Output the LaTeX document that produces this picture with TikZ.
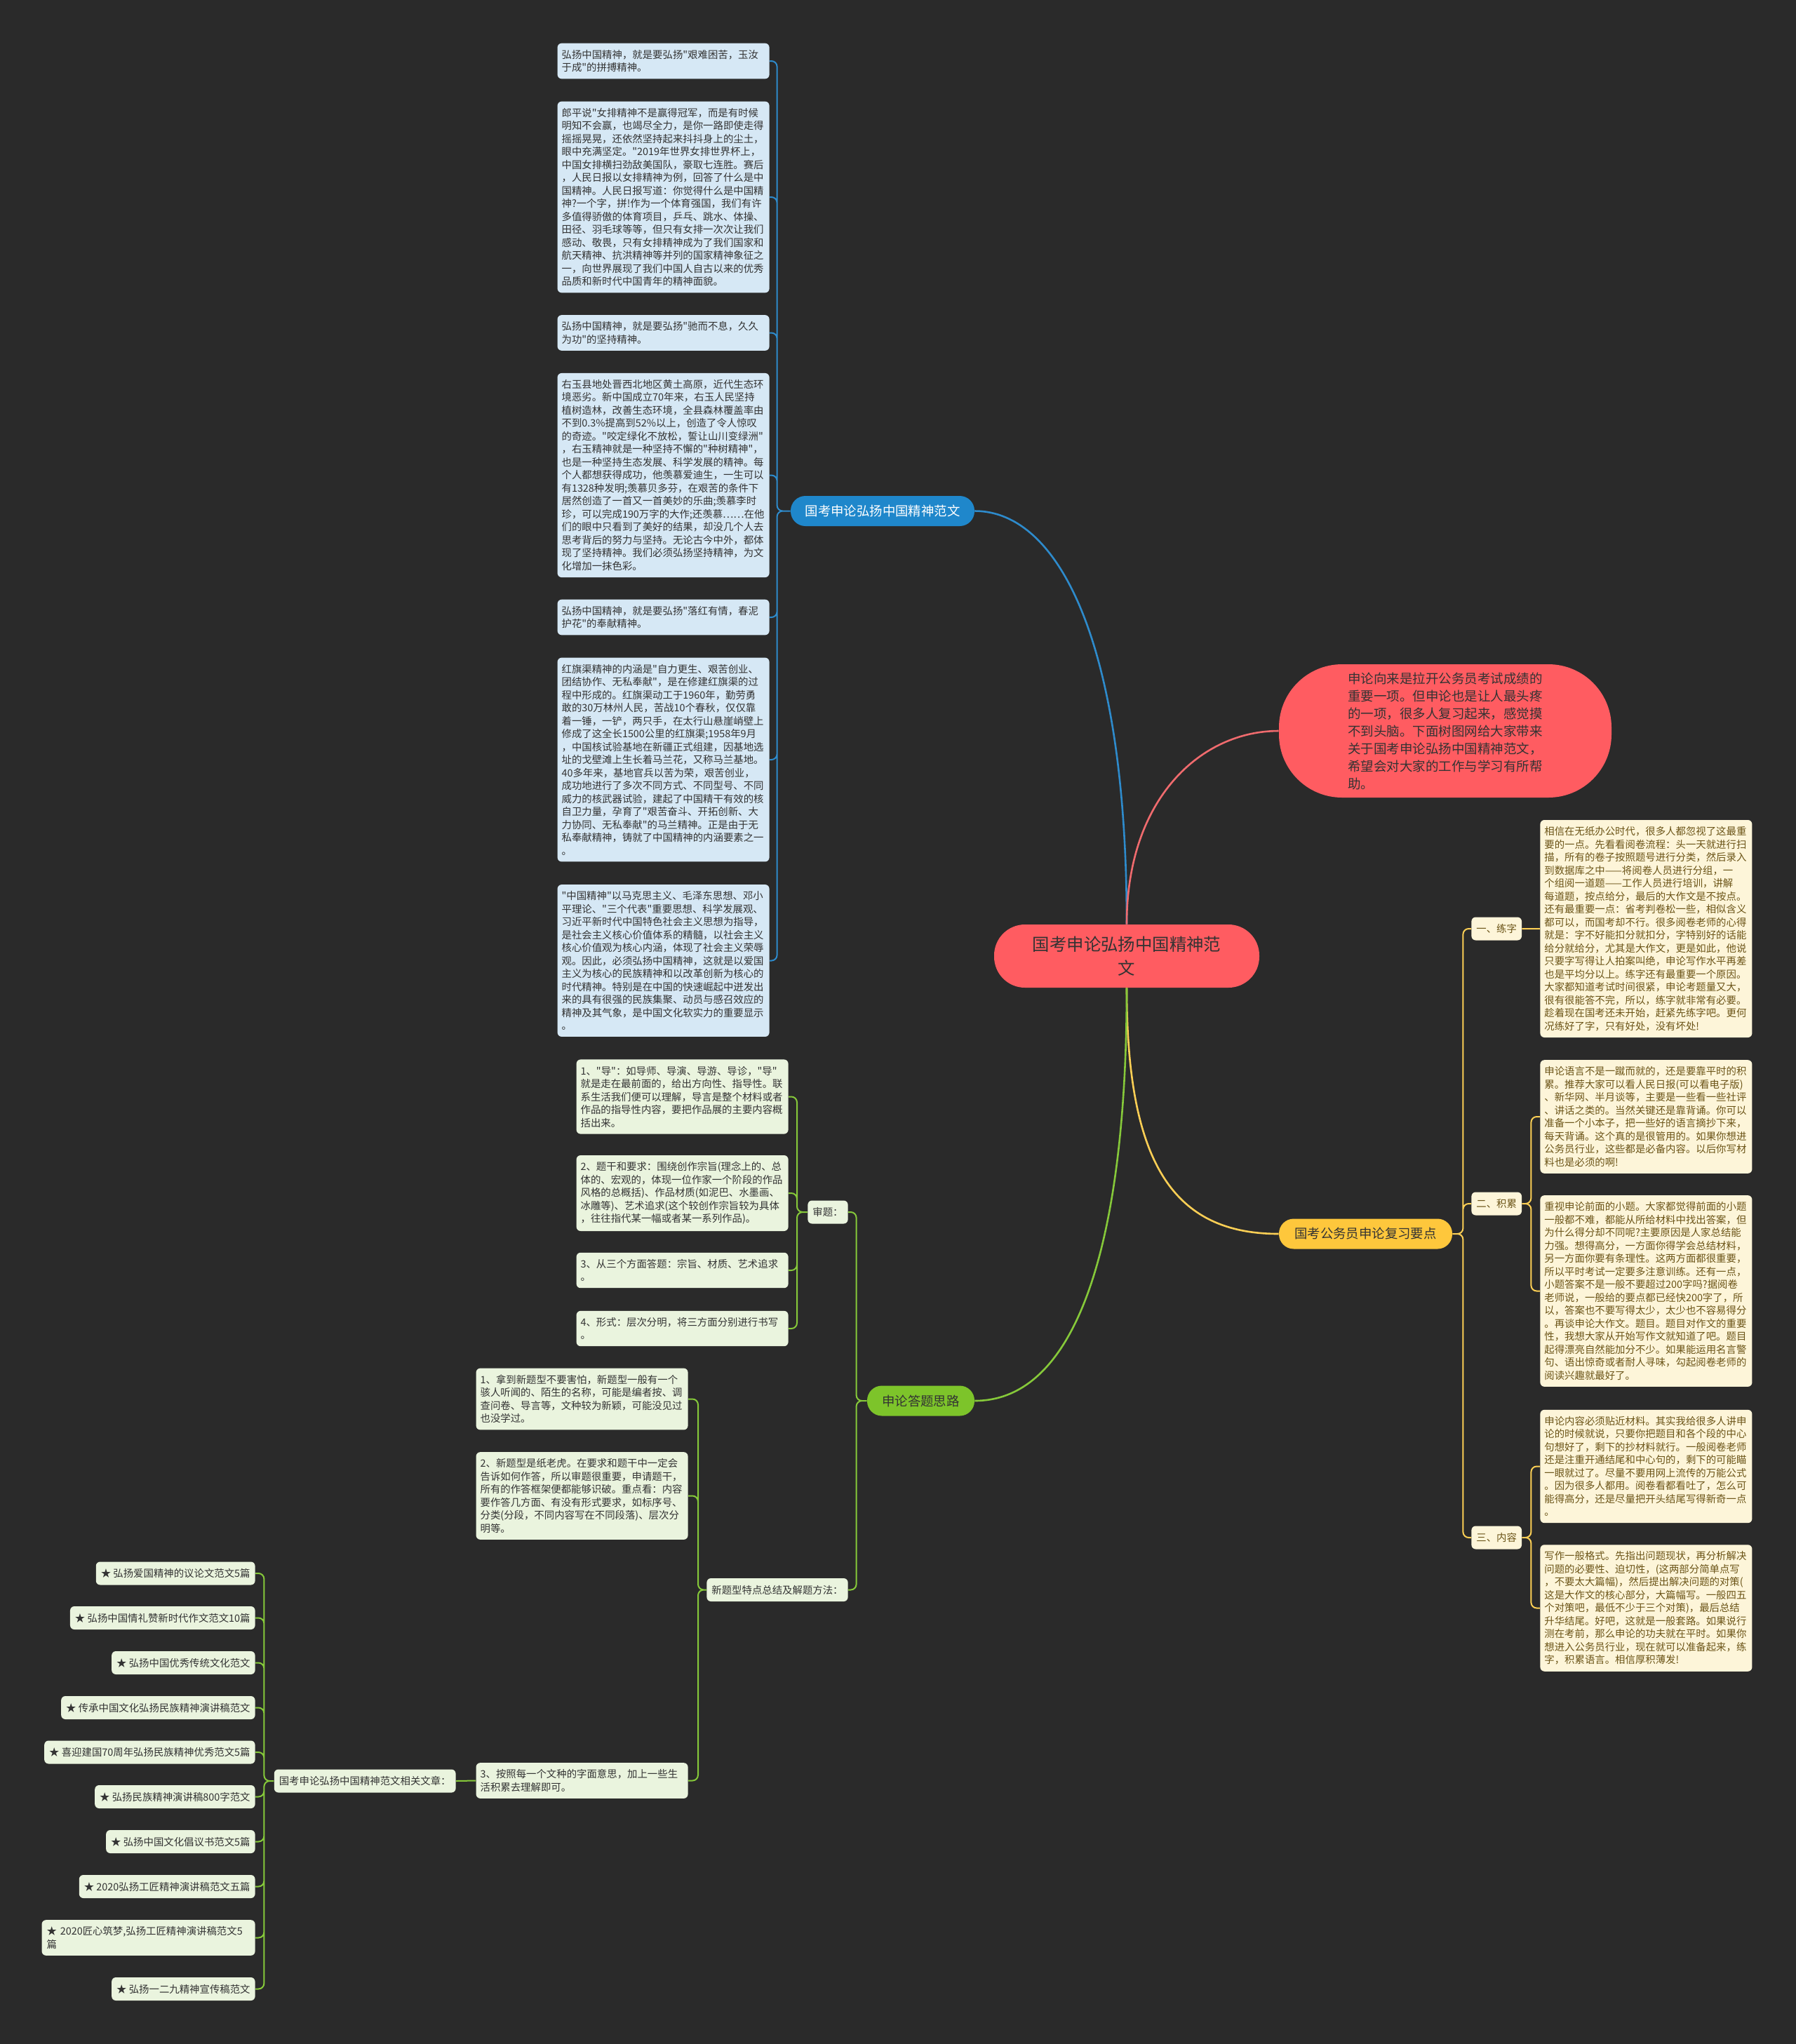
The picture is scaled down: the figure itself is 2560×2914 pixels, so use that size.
\documentclass[tikz,border=0pt]{standalone}
\usepackage{fontspec}
\setmainfont{Noto Sans CJK SC}[Ligatures=TeXOff]

\definecolor{bgc}{HTML}{2A2A2A}
\definecolor{rootc}{HTML}{FF5C61}
\definecolor{redl}{HTML}{F06B6E}
\definecolor{bluec}{HTML}{1F87CB}
\definecolor{bluel}{HTML}{2E8BCC}
\definecolor{bleaf}{HTML}{D6E8F5}
\definecolor{yelc}{HTML}{FEC73C}
\definecolor{yell}{HTML}{FCCF55}
\definecolor{yleaf}{HTML}{FDF5D9}
\definecolor{ytext}{HTML}{6B5417}
\definecolor{grnc}{HTML}{7DC42A}
\definecolor{grnl}{HTML}{86C93A}
\definecolor{gleaf}{HTML}{EAF4DE}
\definecolor{darkt}{HTML}{333333}

\newcommand\txtleaf{\fontsize{7.2pt}{9.25pt}\selectfont}
\newcommand\txtmain{\fontsize{9.2pt}{11pt}\selectfont}
\newcommand\txtroot{\fontsize{12.2pt}{17pt}\selectfont}
\newcommand\txtintro{\fontsize{9.25pt}{12.5pt}\selectfont}

\begin{document}
\begin{tikzpicture}[x=0.5pt,y=-0.5pt,
  leaf/.style={rounded corners=3pt,inner xsep=3pt,inner ysep=4.7pt,align=left,text width=145pt,font=\txtleaf},
  bluebox/.style={leaf,fill=bleaf,text=darkt,anchor=east},
  yelbox/.style={leaf,fill=yleaf,text=ytext,anchor=west},
  grnbox/.style={leaf,fill=gleaf,text=darkt,anchor=east},
  tag/.style={rounded corners=3pt,inner xsep=3.5pt,inner ysep=0pt,minimum height=16.5pt,font=\txtleaf},
  gtag/.style={tag,fill=gleaf,text=darkt,anchor=east},
  ytag/.style={tag,fill=yleaf,text=ytext,anchor=west},
  branch/.style={rounded corners=10.5pt,minimum height=21.5pt,inner xsep=0pt,font=\txtmain},
  link/.style={line width=1pt,rounded corners=4pt},
  limb/.style={line width=1.3pt}]

\useasboundingbox (0,0) rectangle (2560,2914);
\fill[bgc] (0,0) rectangle (2560,2914);

\node[fill=rootc,text=darkt,rounded corners=22pt,minimum width=189pt,minimum height=45pt,align=center,font=\txtroot] (root) at (1606,1363) {国考申论弘扬中国精神范\\文};

\node[fill=rootc,text=darkt,rounded corners=45pt,minimum width=237pt,minimum height=95pt,align=left,font=\txtintro] (intro) at (2060,1042)
  {申论向来是拉开公务员考试成绩的\\重要一项。但申论也是让人最头疼\\的一项，很多人复习起来，感觉摸\\不到头脑。下面树图网给大家带来\\关于国考申论弘扬中国精神范文，\\希望会对大家的工作与学习有所帮\\助。};

\node[branch,fill=bluec,text=white,minimum width=131pt] (bn) at (1258,728.5) {国考申论弘扬中国精神范文};
\node[branch,fill=yelc,text=darkt,minimum width=123.5pt] (yn) at (1946.5,1759) {国考公务员申论复习要点};
\node[branch,fill=grnc,text=darkt,minimum width=76.5pt] (gn) at (1312.5,1997) {申论答题思路};

\node[bluebox] (b1) at (1097,87) {弘扬中国精神，就是要弘扬"艰难困苦，玉汝\\于成"的拼搏精神。};
\node[bluebox] (b2) at (1097,281) {郎平说"女排精神不是赢得冠军，而是有时候\\明知不会赢，也竭尽全力，是你一路即使走得\\摇摇晃晃，还依然坚持起来抖抖身上的尘土，\\眼中充满坚定。"2019年世界女排世界杯上，\\中国女排横扫劲敌美国队，豪取七连胜。赛后\\，人民日报以女排精神为例，回答了什么是中\\国精神。人民日报写道：你觉得什么是中国精\\神?一个字，拼!作为一个体育强国，我们有许\\多值得骄傲的体育项目，乒乓、跳水、体操、\\田径、羽毛球等等，但只有女排一次次让我们\\感动、敬畏，只有女排精神成为了我们国家和\\航天精神、抗洪精神等并列的国家精神象征之\\一，向世界展现了我们中国人自古以来的优秀\\品质和新时代中国青年的精神面貌。};
\node[bluebox] (b3) at (1097,474.5) {弘扬中国精神，就是要弘扬"驰而不息，久久\\为功"的坚持精神。};
\node[bluebox] (b4) at (1097,677.5) {右玉县地处晋西北地区黄土高原，近代生态环\\境恶劣。新中国成立70年来，右玉人民坚持\\植树造林，改善生态环境，全县森林覆盖率由\\不到0.3\%提高到52\%以上，创造了令人惊叹\\的奇迹。"咬定绿化不放松，誓让山川变绿洲"\\，右玉精神就是一种坚持不懈的"种树精神"，\\也是一种坚持生态发展、科学发展的精神。每\\个人都想获得成功，他羡慕爱迪生，一生可以\\有1328种发明;羡慕贝多芬，在艰苦的条件下\\居然创造了一首又一首美妙的乐曲;羡慕李时\\珍，可以完成190万字的大作;还羡慕……在他\\们的眼中只看到了美好的结果，却没几个人去\\思考背后的努力与坚持。无论古今中外，都体\\现了坚持精神。我们必须弘扬坚持精神，为文\\化增加一抹色彩。};
\node[bluebox] (b5) at (1097,880) {弘扬中国精神，就是要弘扬"落红有情，春泥\\护花"的奉献精神。};
\node[bluebox] (b6) at (1097,1083) {红旗渠精神的内涵是"自力更生、艰苦创业、\\团结协作、无私奉献"，是在修建红旗渠的过\\程中形成的。红旗渠动工于1960年，勤劳勇\\敢的30万林州人民，苦战10个春秋，仅仅靠\\着一锤，一铲，两只手，在太行山悬崖峭壁上\\修成了这全长1500公里的红旗渠;1958年9月\\，中国核试验基地在新疆正式组建，因基地选\\址的戈壁滩上生长着马兰花，又称马兰基地。\\40多年来，基地官兵以苦为荣，艰苦创业，\\成功地进行了多次不同方式、不同型号、不同\\威力的核武器试验，建起了中国精干有效的核\\自卫力量，孕育了"艰苦奋斗、开拓创新、大\\力协同、无私奉献"的马兰精神。正是由于无\\私奉献精神，铸就了中国精神的内涵要素之一\\。};
\node[bluebox] (b7) at (1097,1369.5) {"中国精神"以马克思主义、毛泽东思想、邓小\\平理论、"三个代表"重要思想、科学发展观、\\习近平新时代中国特色社会主义思想为指导，\\是社会主义核心价值体系的精髓，以社会主义\\核心价值观为核心内涵，体现了社会主义荣辱\\观。因此，必须弘扬中国精神，这就是以爱国\\主义为核心的民族精神和以改革创新为核心的\\时代精神。特别是在中国的快速崛起中迸发出\\来的具有很强的民族集聚、动员与感召效应的\\精神及其气象，是中国文化软实力的重要显示\\。};

\node[ytag] (lz) at (2097,1324) {一、练字};
\node[ytag] (jl) at (2097,1716) {二、积累};
\node[ytag] (nr) at (2097,2192) {三、内容};

\node[yelbox] (y1) at (2195,1324) {相信在无纸办公时代，很多人都忽视了这最重\\要的一点。先看看阅卷流程：头一天就进行扫\\描，所有的卷子按照题号进行分类，然后录入\\到数据库之中——将阅卷人员进行分组，一\\个组阅一道题——工作人员进行培训，讲解\\每道题，按点给分，最后的大作文是不按点。\\还有最重要一点：省考判卷松一些，相似含义\\都可以，而国考却不行。很多阅卷老师的心得\\就是：字不好能扣分就扣分，字特别好的话能\\给分就给分，尤其是大作文，更是如此，他说\\只要字写得让人拍案叫绝，申论写作水平再差\\也是平均分以上。练字还有最重要一个原因。\\大家都知道考试时间很紧，申论考题量又大，\\很有很能答不完，所以，练字就非常有必要。\\趁着现在国考还未开始，赶紧先练字吧。更何\\况练好了字，只有好处，没有坏处!};
\node[yelbox] (y2) at (2195,1592) {申论语言不是一蹴而就的，还是要靠平时的积\\累。推荐大家可以看人民日报(可以看电子版)\\、新华网、半月谈等，主要是一些看一些社评\\、讲话之类的。当然关键还是靠背诵。你可以\\准备一个小本子，把一些好的语言摘抄下来，\\每天背诵。这个真的是很管用的。如果你想进\\公务员行业，这些都是必备内容。以后你写材\\料也是必须的啊!};
\node[yelbox] (y3) at (2195,1840.5) {重视申论前面的小题。大家都觉得前面的小题\\一般都不难，都能从所给材料中找出答案，但\\为什么得分却不同呢?主要原因是人家总结能\\力强。想得高分，一方面你得学会总结材料，\\另一方面你要有条理性。这两方面都很重要，\\所以平时考试一定要多注意训练。还有一点，\\小题答案不是一般不要超过200字吗?据阅卷\\老师说，一般给的要点都已经快200字了，所\\以，答案也不要写得太少，太少也不容易得分\\。再谈申论大作文。题目。题目对作文的重要\\性，我想大家从开始写作文就知道了吧。题目\\起得漂亮自然能加分不少。如果能运用名言警\\句、语出惊奇或者耐人寻味，勾起阅卷老师的\\阅读兴趣就最好了。};
\node[yelbox] (y4) at (2195,2090.5) {申论内容必须贴近材料。其实我给很多人讲申\\论的时候就说，只要你把题目和各个段的中心\\句想好了，剩下的抄材料就行。一般阅卷老师\\还是注重开通结尾和中心句的，剩下的可能瞄\\一眼就过了。尽量不要用网上流传的万能公式\\。因为很多人都用。阅卷看都看吐了，怎么可\\能得高分，还是尽量把开头结尾写得新奇一点\\。};
\node[yelbox] (y5) at (2195,2292.5) {写作一般格式。先指出问题现状，再分析解决\\问题的必要性、迫切性，(这两部分简单点写\\，不要太大篇幅)，然后提出解决问题的对策(\\这是大作文的核心部分，大篇幅写。一般四五\\个对策吧，最低不少于三个对策)，最后总结\\升华结尾。好吧，这就是一般套路。如果说行\\测在考前，那么申论的功夫就在平时。如果你\\想进入公务员行业，现在就可以准备起来，练\\字，积累语言。相信厚积薄发!};

\node[gtag] (sh) at (1209,1728) {审题：};
\node[gtag] (xt) at (1209,2266.5) {新题型特点总结及解题方法：};

\node[grnbox] (g1) at (1124,1563.5) {1、"导"：如导师、导演、导游、导诊，"导"\\就是走在最前面的，给出方向性、指导性。联\\系生活我们便可以理解，导言是整个材料或者\\作品的指导性内容，要把作品展的主要内容概\\括出来。};
\node[grnbox] (g2) at (1124,1701) {2、题干和要求：围绕创作宗旨(理念上的、总\\体的、宏观的，体现一位作家一个阶段的作品\\风格的总概括)、作品材质(如泥巴、水墨画、\\冰雕等)、艺术追求(这个较创作宗旨较为具体\\，往往指代某一幅或者某一系列作品)。};
\node[grnbox] (g3) at (1124,1811) {3、从三个方面答题：宗旨、材质、艺术追求\\。};
\node[grnbox] (g4) at (1124,1894) {4、形式：层次分明，将三方面分别进行书写\\。};

\node[grnbox] (n1) at (981,1994.5) {1、拿到新题型不要害怕，新题型一般有一个\\骇人听闻的、陌生的名称，可能是编者按、调\\查问卷、导言等，文种较为新颖，可能没见过\\也没学过。};
\node[grnbox] (n2) at (981,2132.5) {2、新题型是纸老虎。在要求和题干中一定会\\告诉如何作答，所以审题很重要，申请题干，\\所有的作答框架便都能够识破。重点看：内容\\要作答几方面、有没有形式要求，如标序号、\\分类(分段，不同内容写在不同段落)、层次分\\明等。};
\node[grnbox] (n3) at (981,2538.5) {3、按照每一个文种的字面意思，加上一些生\\活积累去理解即可。};

\node[gtag] (rel) at (650,2539) {国考申论弘扬中国精神范文相关文章：};

\node[gtag] (s1) at (364,2243) {★ 弘扬爱国精神的议论文范文5篇};
\node[gtag] (s2) at (364,2306.5) {★ 弘扬中国情礼赞新时代作文范文10篇};
\node[gtag] (s3) at (364,2370.5) {★ 弘扬中国优秀传统文化范文};
\node[gtag] (s4) at (364,2434.5) {★ 传承中国文化弘扬民族精神演讲稿范文};
\node[gtag] (s5) at (364,2498) {★ 喜迎建国70周年弘扬民族精神优秀范文5篇};
\node[gtag] (s6) at (364,2561.5) {★ 弘扬民族精神演讲稿800字范文};
\node[gtag] (s7) at (364,2625.5) {★ 弘扬中国文化倡议书范文5篇};
\node[gtag] (s8) at (364,2689.5) {★ 2020弘扬工匠精神演讲稿范文五篇};
\node[gtag,align=left,text width=145pt,inner ysep=4.7pt] (s9) at (364,2762.5) {★ 2020匠心筑梦,弘扬工匠精神演讲稿范文5\\篇};
\node[gtag] (s10) at (364,2835.5) {★ 弘扬一二九精神宣传稿范文};

\draw[limb,bluel] (root.north) .. controls +(0,-400) and +(120,0) .. (bn.east);
\draw[limb,redl] (root.north) .. controls +(0,-180) and +(-110,0) .. (intro.west);
\draw[limb,yell] (root.south) .. controls +(0,250) and +(-150,0) .. (yn.west);
\draw[limb,grnl] (root.south) .. controls +(0,350) and +(150,0) .. (gn.east);

\draw[link,bluel] (bn.west) -- ++(-19,0) |- (b1.east)
  (bn.west) -- ++(-19,0) |- (b2.east)
  (bn.west) -- ++(-19,0) |- (b3.east)
  (bn.west) -- ++(-19,0) |- (b4.east)
  (bn.west) -- ++(-19,0) |- (b5.east)
  (bn.west) -- ++(-19,0) |- (b6.east)
  (bn.west) -- ++(-19,0) |- (b7.east);

\draw[link,yell] (yn.east) -- ++(15,0) |- (lz.west)
  (yn.east) -- ++(15,0) |- (jl.west)
  (yn.east) -- ++(15,0) |- (nr.west);
\draw[link,yell] (lz.east) -- (y1.west)
  (jl.east) -- ++(13,0) |- (y2.west)
  (jl.east) -- ++(13,0) |- (y3.west)
  (nr.east) -- ++(13,0) |- (y4.west)
  (nr.east) -- ++(13,0) |- (y5.west);

\draw[link,grnl] (gn.west) -- ++(-15,0) |- (sh.east)
  (gn.west) -- ++(-15,0) |- (xt.east);
\draw[link,grnl] (sh.west) -- ++(-15,0) |- (g1.east)
  (sh.west) -- ++(-15,0) |- (g2.east)
  (sh.west) -- ++(-15,0) |- (g3.east)
  (sh.west) -- ++(-15,0) |- (g4.east);
\draw[link,grnl] (xt.west) -- ++(-12,0) |- (n1.east)
  (xt.west) -- ++(-12,0) |- (n2.east)
  (xt.west) -- ++(-12,0) |- (n3.east);
\draw[link,grnl] (n3.west) -- (rel.east);
\draw[link,grnl] (rel.west) -- ++(-14,0) |- (s1.east)
  (rel.west) -- ++(-14,0) |- (s2.east)
  (rel.west) -- ++(-14,0) |- (s3.east)
  (rel.west) -- ++(-14,0) |- (s4.east)
  (rel.west) -- ++(-14,0) |- (s5.east)
  (rel.west) -- ++(-14,0) |- (s6.east)
  (rel.west) -- ++(-14,0) |- (s7.east)
  (rel.west) -- ++(-14,0) |- (s8.east)
  (rel.west) -- ++(-14,0) |- (s9.east)
  (rel.west) -- ++(-14,0) |- (s10.east);
\end{tikzpicture}
\end{document}
